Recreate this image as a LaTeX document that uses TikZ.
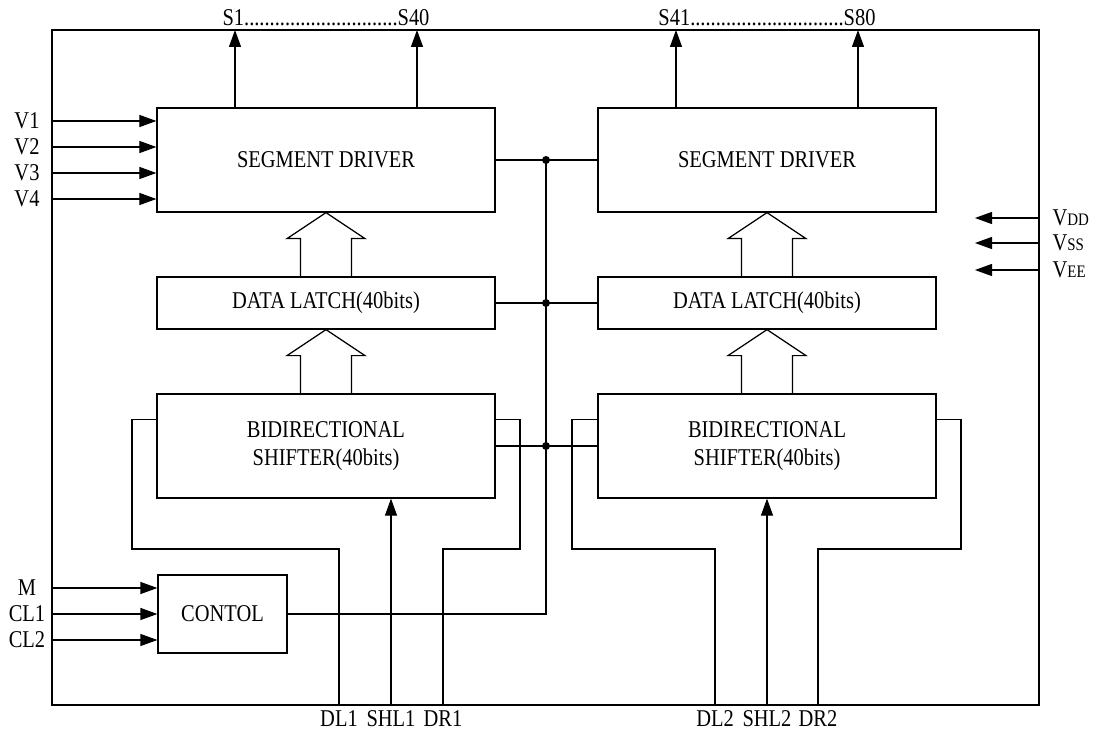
\documentclass[tikz,border=0pt]{standalone}
\usepackage{fontspec}
\setmainfont{Liberation Serif}[FakeStretch=0.85]
\usepackage{tikz}
\usetikzlibrary{arrows.meta,calc}
\newcommand{\subcap}[1]{{\fontsize{10}{12}\selectfont #1}}
\newcommand{\fatarrow}[2]{% #1 lower block, #2 upper block
  \draw ($(#1.north)+(-25.5,0)$) -- ($(#2.south)+(-25.5,26)$) -- ($(#2.south)+(-39,26)$)
    -- (#2.south) -- ($(#2.south)+(39,26)$) -- ($(#2.south)+(25.5,26)$) -- ($(#1.north)+(25.5,0)$);
}
\tikzset{
  blk/.style={draw, inner sep=0pt, align=center, minimum width=67.6mm},
  sig/.style={-{Triangle[length=3.4mm,width=2.4mm]}},
  pinlbl/.style={inner sep=0pt},
}

\begin{document}
\begin{tikzpicture}[x=0.2mm, y=-0.2mm, line width=0.7pt, font=\fontsize{13.7}{15.5}\selectfont]
        \useasboundingbox (0,0) rectangle (1098,733);
        \draw (52,30) rectangle (1039,705);
        \coordinate (edgeL) at (52,0);
        \coordinate (edgeR) at (1039,0);
        \coordinate (edgeT) at (0,30);
        \coordinate (bus) at (546,0);
        % blocks
        \node[blk, minimum height=20.8mm] (segL) at (326,160) {SEGMENT DRIVER};
        \node[blk, minimum height=20.8mm] (segR) at (767,160) {SEGMENT DRIVER};
        \node[blk, minimum height=10.4mm] (latL) at (326,303) {DATA LATCH(40bits)};
        \node[blk, minimum height=10.4mm] (latR) at (767,303) {DATA LATCH(40bits)};
        \node[blk, minimum height=20.8mm] (shfL) at (326,446) {BIDIRECTIONAL\\SHIFTER(40bits)};
        \node[blk, minimum height=20.8mm] (shfR) at (767,446) {BIDIRECTIONAL\\SHIFTER(40bits)};
        \node[blk, minimum width=25.8mm, minimum height=15.6mm] (ctl) at (222.5,614) {CONTOL};
        \fatarrow{latL}{segL}
        \fatarrow{latR}{segR}
        \fatarrow{shfL}{latL}
        \fatarrow{shfR}{latR}
        % segment outputs
        \node[pinlbl, anchor=base] (outL) at (326,26) {S1..............................S40};
        \node[pinlbl, anchor=base] (outR) at (767,26) {S41..............................S80};
        \foreach \xx in {235,417}{
            \draw[sig] (segL.north -| \xx,0) -- (edgeT -| \xx,0);
        }
        \foreach \xx in {676,858}{
            \draw[sig] (segR.north -| \xx,0) -- (edgeT -| \xx,0);
        }
        % inputs
        \foreach \nm/\yy in {V1/121,V2/147,V3/173,V4/199}{
            \node[pinlbl] (\nm) at (27,\yy) {\nm};
            \draw[sig] (edgeL |- \nm) -- (segL.west |- \nm);
        }
        \foreach \nm/\yy in {M/588,CL1/614,CL2/640}{
            \node[pinlbl] (\nm) at (27,\yy) {\nm};
            \draw[sig] (edgeL |- \nm) -- (ctl.west |- \nm);
        }
        \foreach \nm/\txt/\yy in {vdd/V\subcap{DD}/218,vss/V\subcap{SS}/243,vee/V\subcap{EE}/270}{
            \node[pinlbl, anchor=west] (\nm) at (1052,\yy) {\txt};
            \draw[sig] (edgeR |- \nm) -- ++(-64,0);
        }
        % common bus
        \draw (segL.east) -- (segR.west);
        \draw (latL.east) -- (latR.west);
        \draw (shfL.east) -- (shfR.west);
        \draw (bus |- segL.east) -- (bus |- ctl.east) -- (ctl.east);
        \foreach \blk in {segL,latL,shfL}{
            \fill (bus |- \blk.east) circle (0.8mm);
        }
        % shifter pins
        \coordinate (dl1) at (339,705);
        \coordinate (shl1) at (391,705);
        \coordinate (dr1) at (443,705);
        \coordinate (dl2) at (715,705);
        \coordinate (shl2) at (767,705);
        \coordinate (dr2) at (818,705);
        \draw (dl1) |- (132,549) |- ([yshift=-5.2mm]shfL.north west);
        \draw (dr1) |- (520,549) |- ([yshift=-5.2mm]shfL.north east);
        \draw[sig] (shl1) -- (shfL.south -| shl1);
        \draw (dl2) |- (572,549) |- ([yshift=-5.2mm]shfR.north west);
        \draw (dr2) |- (961,549) |- ([yshift=-5.2mm]shfR.north east);
        \draw[sig] (shl2) -- (shfR.south -| shl2);
        \foreach \nm/\txt in {dl1/DL1,shl1/SHL1,dr1/DR1,dl2/DL2,shl2/SHL2,dr2/DR2}{
            \node[pinlbl, anchor=base] (\nm-lbl) at (\nm |- 0,726) {\txt};
        }
\end{tikzpicture}
\end{document}
